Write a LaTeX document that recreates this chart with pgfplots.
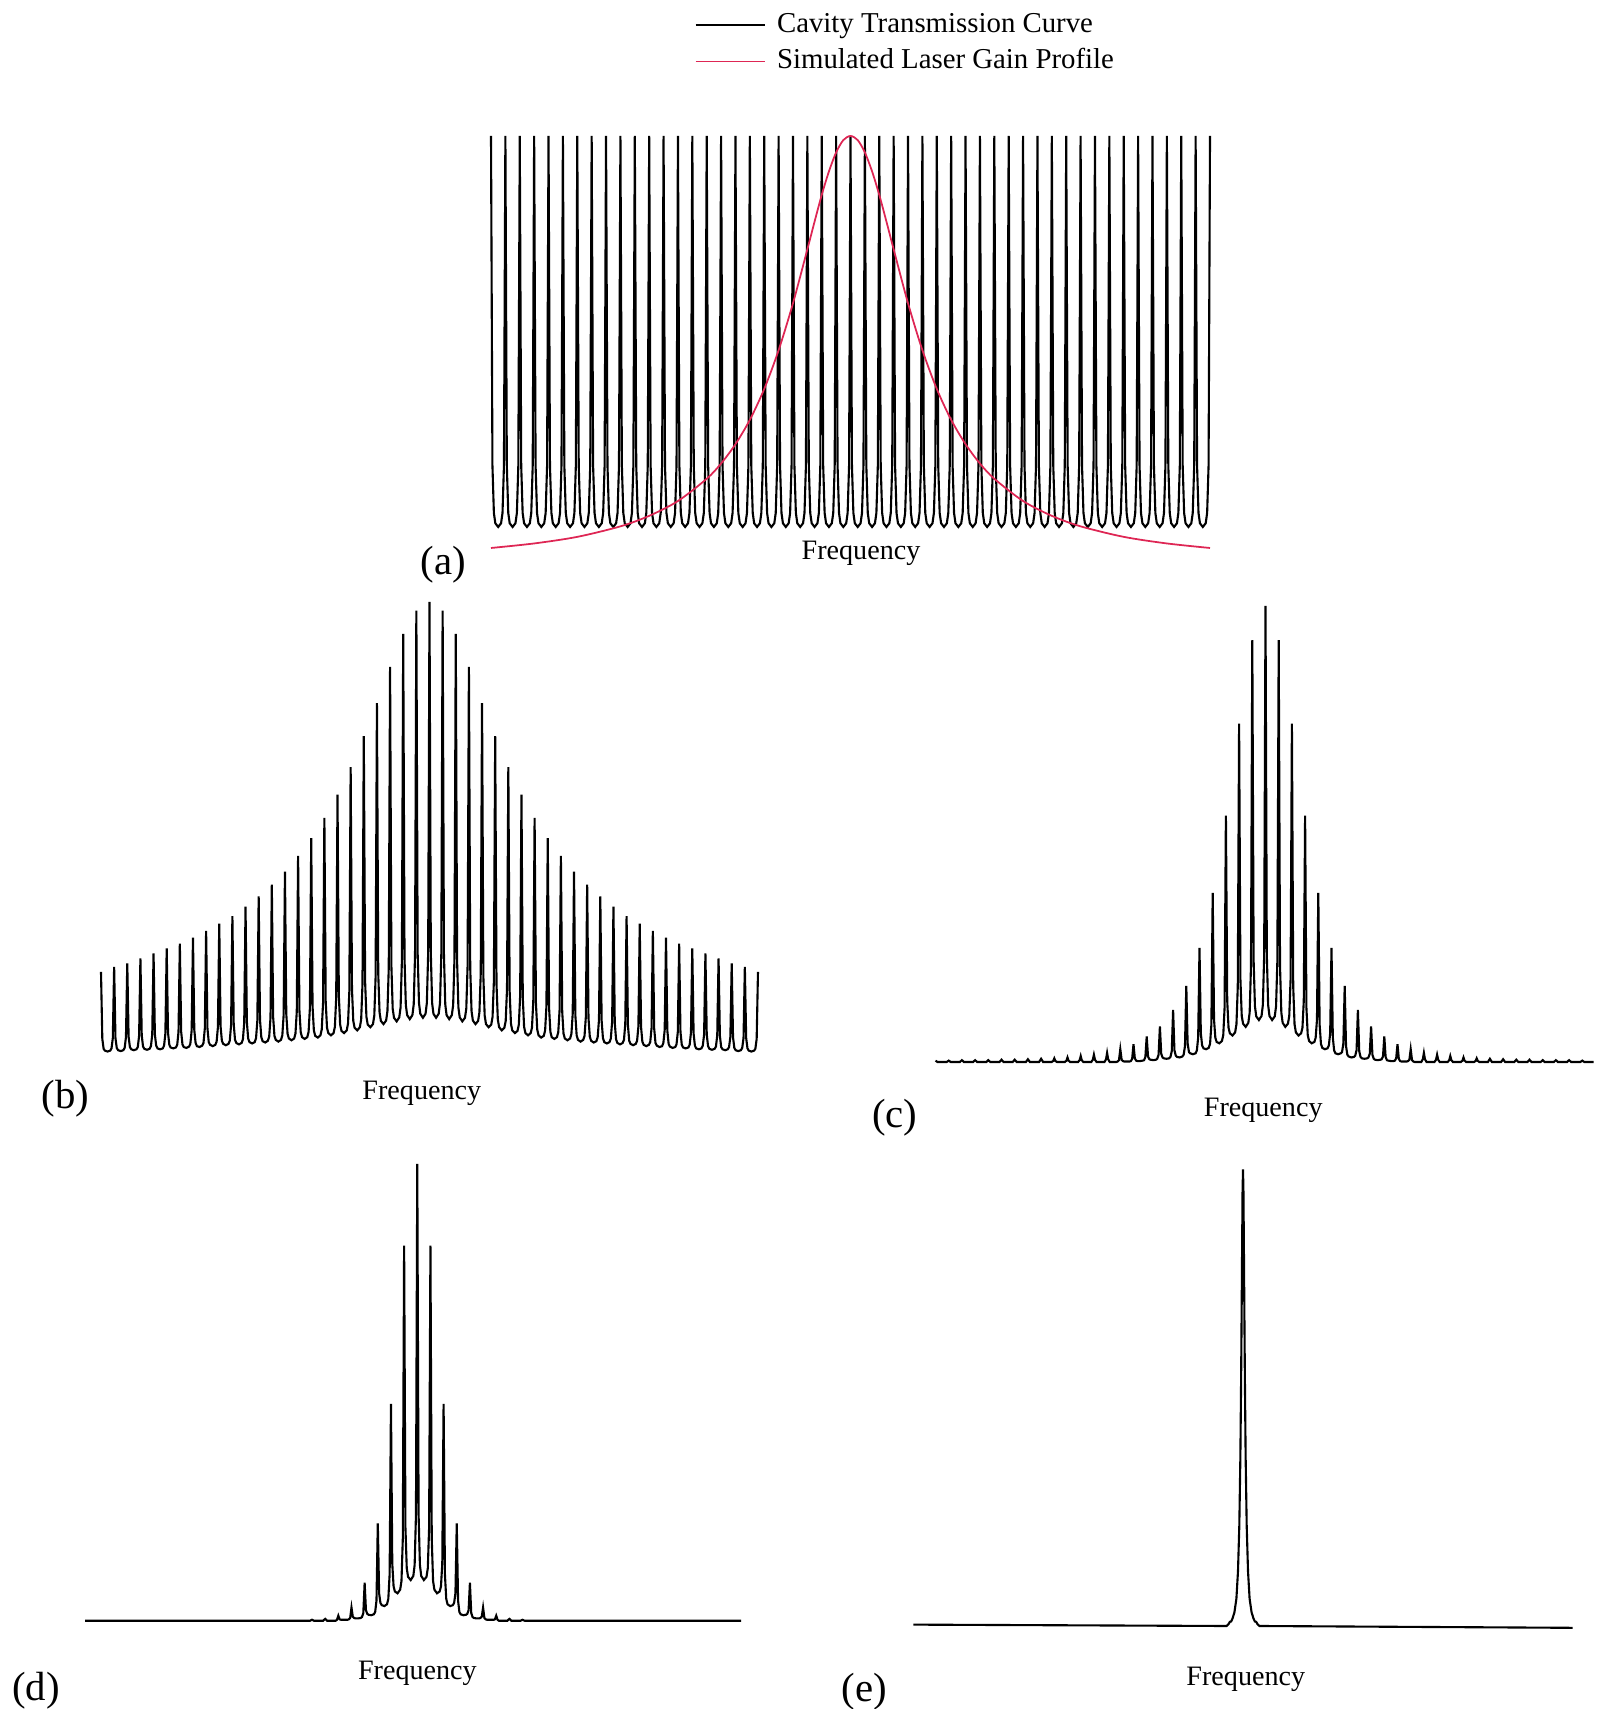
\documentclass[border=0pt]{standalone}
\usepackage{fontspec}
\setmainfont{Liberation Serif}
\usepackage{pgfplots}
\pgfplotsset{compat=1.18}
\definecolor{gainred}{RGB}{222,38,84}
\begin{document}
\begin{tikzpicture}
\path[use as bounding box] (0,0) rectangle (16.04,17.09);
\pgfplotsset{panel/.style={scale only axis, hide axis, clip=false, anchor=south west, ymin=0, ymax=1, xmin=-25, xmax=25}}
% ---------------- (a) ----------------
\begin{axis}[panel, at={(4.91cm,11.61cm)}, width=7.19cm, height=4.12cm,
  legend style={at={(0.2823,1.3136)}, anchor=north west, draw=none, fill=none, inner sep=0pt,
    font=\fontsize{8.2}{9.8}\selectfont, nodes={inner sep=1pt, text height=6.0pt, text depth=1.8pt},
    row sep=0.7pt, column sep=2.2pt, cells={anchor=west}},
  legend image code/.code={\draw[#1] (0cm,0cm) -- (0.69cm,0cm);}]
\addplot[black, line width=0.6pt] coordinates {
(-25,1)(-24.9,.2)(-24.8,.085)(-24.7,.06)(-24.5,.051)(-24.3,.06)(-24.2,.085)(-24.1,.2)
(-24,1)(-23.9,.2)(-23.8,.085)(-23.7,.06)(-23.5,.051)(-23.3,.06)(-23.2,.085)(-23.1,.2)
(-23,1)(-22.9,.2)(-22.8,.085)(-22.7,.06)(-22.5,.051)(-22.3,.06)(-22.2,.085)(-22.1,.2)
(-22,1)(-21.9,.2)(-21.8,.085)(-21.7,.06)(-21.5,.051)(-21.3,.06)(-21.2,.085)(-21.1,.2)
(-21,1)(-20.9,.2)(-20.8,.085)(-20.7,.06)(-20.5,.051)(-20.3,.06)(-20.2,.085)(-20.1,.2)
(-20,1)(-19.9,.2)(-19.8,.085)(-19.7,.06)(-19.5,.051)(-19.3,.06)(-19.2,.085)(-19.1,.2)
(-19,1)(-18.9,.2)(-18.8,.085)(-18.7,.06)(-18.5,.051)(-18.3,.06)(-18.2,.085)(-18.1,.2)
(-18,1)(-17.9,.2)(-17.8,.085)(-17.7,.06)(-17.5,.051)(-17.3,.06)(-17.2,.085)(-17.1,.2)
(-17,1)(-16.9,.2)(-16.8,.085)(-16.7,.06)(-16.5,.051)(-16.3,.06)(-16.2,.085)(-16.1,.2)
(-16,1)(-15.9,.2)(-15.8,.085)(-15.7,.06)(-15.5,.051)(-15.3,.06)(-15.2,.085)(-15.1,.2)
(-15,1)(-14.9,.2)(-14.8,.085)(-14.7,.06)(-14.5,.051)(-14.3,.06)(-14.2,.085)(-14.1,.2)
(-14,1)(-13.9,.2)(-13.8,.085)(-13.7,.06)(-13.5,.051)(-13.3,.06)(-13.2,.085)(-13.1,.2)
(-13,1)(-12.9,.2)(-12.8,.085)(-12.7,.06)(-12.5,.051)(-12.3,.06)(-12.2,.085)(-12.1,.2)
(-12,1)(-11.9,.2)(-11.8,.085)(-11.7,.06)(-11.5,.051)(-11.3,.06)(-11.2,.085)(-11.1,.2)
(-11,1)(-10.9,.2)(-10.8,.085)(-10.7,.06)(-10.5,.051)(-10.3,.06)(-10.2,.085)(-10.1,.2)
(-10,1)(-9.9,.2)(-9.8,.085)(-9.7,.06)(-9.5,.051)(-9.3,.06)(-9.2,.085)(-9.1,.2)
(-9,1)(-8.9,.2)(-8.8,.085)(-8.7,.06)(-8.5,.051)(-8.3,.06)(-8.2,.085)(-8.1,.2)
(-8,1)(-7.9,.2)(-7.8,.085)(-7.7,.06)(-7.5,.051)(-7.3,.06)(-7.2,.085)(-7.1,.2)
(-7,1)(-6.9,.2)(-6.8,.085)(-6.7,.06)(-6.5,.051)(-6.3,.06)(-6.2,.085)(-6.1,.2)
(-6,1)(-5.9,.2)(-5.8,.085)(-5.7,.06)(-5.5,.051)(-5.3,.06)(-5.2,.085)(-5.1,.2)
(-5,1)(-4.9,.2)(-4.8,.085)(-4.7,.06)(-4.5,.051)(-4.3,.06)(-4.2,.085)(-4.1,.2)
(-4,1)(-3.9,.2)(-3.8,.085)(-3.7,.06)(-3.5,.051)(-3.3,.06)(-3.2,.085)(-3.1,.2)
(-3,1)(-2.9,.2)(-2.8,.085)(-2.7,.06)(-2.5,.051)(-2.3,.06)(-2.2,.085)(-2.1,.2)
(-2,1)(-1.9,.2)(-1.8,.085)(-1.7,.06)(-1.5,.051)(-1.3,.06)(-1.2,.085)(-1.1,.2)
(-1,1)(-0.9,.2)(-0.8,.085)(-0.7,.06)(-0.5,.051)(-0.3,.06)(-0.2,.085)(-0.1,.2)
(0,1)(0.1,.2)(0.2,.085)(0.3,.06)(0.5,.051)(0.7,.06)(0.8,.085)(0.9,.2)
(1,1)(1.1,.2)(1.2,.085)(1.3,.06)(1.5,.051)(1.7,.06)(1.8,.085)(1.9,.2)
(2,1)(2.1,.2)(2.2,.085)(2.3,.06)(2.5,.051)(2.7,.06)(2.8,.085)(2.9,.2)
(3,1)(3.1,.2)(3.2,.085)(3.3,.06)(3.5,.051)(3.7,.06)(3.8,.085)(3.9,.2)
(4,1)(4.1,.2)(4.2,.085)(4.3,.06)(4.5,.051)(4.7,.06)(4.8,.085)(4.9,.2)
(5,1)(5.1,.2)(5.2,.085)(5.3,.06)(5.5,.051)(5.7,.06)(5.8,.085)(5.9,.2)
(6,1)(6.1,.2)(6.2,.085)(6.3,.06)(6.5,.051)(6.7,.06)(6.8,.085)(6.9,.2)
(7,1)(7.1,.2)(7.2,.085)(7.3,.06)(7.5,.051)(7.7,.06)(7.8,.085)(7.9,.2)
(8,1)(8.1,.2)(8.2,.085)(8.3,.06)(8.5,.051)(8.7,.06)(8.8,.085)(8.9,.2)
(9,1)(9.1,.2)(9.2,.085)(9.3,.06)(9.5,.051)(9.7,.06)(9.8,.085)(9.9,.2)
(10,1)(10.1,.2)(10.2,.085)(10.3,.06)(10.5,.051)(10.7,.06)(10.8,.085)(10.9,.2)
(11,1)(11.1,.2)(11.2,.085)(11.3,.06)(11.5,.051)(11.7,.06)(11.8,.085)(11.9,.2)
(12,1)(12.1,.2)(12.2,.085)(12.3,.06)(12.5,.051)(12.7,.06)(12.8,.085)(12.9,.2)
(13,1)(13.1,.2)(13.2,.085)(13.3,.06)(13.5,.051)(13.7,.06)(13.8,.085)(13.9,.2)
(14,1)(14.1,.2)(14.2,.085)(14.3,.06)(14.5,.051)(14.7,.06)(14.8,.085)(14.9,.2)
(15,1)(15.1,.2)(15.2,.085)(15.3,.06)(15.5,.051)(15.7,.06)(15.8,.085)(15.9,.2)
(16,1)(16.1,.2)(16.2,.085)(16.3,.06)(16.5,.051)(16.7,.06)(16.8,.085)(16.9,.2)
(17,1)(17.1,.2)(17.2,.085)(17.3,.06)(17.5,.051)(17.7,.06)(17.8,.085)(17.9,.2)
(18,1)(18.1,.2)(18.2,.085)(18.3,.06)(18.5,.051)(18.7,.06)(18.8,.085)(18.9,.2)
(19,1)(19.1,.2)(19.2,.085)(19.3,.06)(19.5,.051)(19.7,.06)(19.8,.085)(19.9,.2)
(20,1)(20.1,.2)(20.2,.085)(20.3,.06)(20.5,.051)(20.7,.06)(20.8,.085)(20.9,.2)
(21,1)(21.1,.2)(21.2,.085)(21.3,.06)(21.5,.051)(21.7,.06)(21.8,.085)(21.9,.2)
(22,1)(22.1,.2)(22.2,.085)(22.3,.06)(22.5,.051)(22.7,.06)(22.8,.085)(22.9,.2)
(23,1)(23.1,.2)(23.2,.085)(23.3,.06)(23.5,.051)(23.7,.06)(23.8,.085)(23.9,.2)
(24,1)(24.1,.2)(24.2,.085)(24.3,.06)(24.5,.051)(24.7,.06)(24.8,.085)(24.9,.2)
(25,1)};
\addlegendentry{Cavity Transmission Curve}
\addplot[gainred, line width=0.5pt, smooth] coordinates {
(-25,0)(-22,.011)(-19,.027)(-16,.0525)(-14,.078)(-12,.114)(-10,.168)(-9,.205)(-8,.252)(-7,.311)
(-6,.386)(-5,.480)(-4,.594)(-3,.725)(-2.5,.792)(-2,.857)(-1.5,.914)(-1,.960)(-0.5,.990)(0,1)
(0.5,.990)(1,.960)(1.5,.914)(2,.857)(2.5,.792)(3,.725)(4,.594)(5,.480)(6,.386)(7,.311)
(8,.252)(9,.205)(10,.168)(12,.114)(14,.078)(16,.0525)(19,.027)(22,.011)(25,0)};
\addlegendentry{Simulated Laser Gain Profile}
\end{axis}
% ---------------- (b) ----------------
\begin{axis}[panel, at={(1.01cm,6.57cm)}, width=6.57cm, height=4.50cm]
\addplot[black, line width=0.6pt] coordinates {
(-25,.178)(-24.9,.029)(-24.8,.007)(-24.7,.003)(-24.5,.001)(-24.3,.003)(-24.2,.008)(-24.1,.031)(-24,.189)
(-23.9,.031)(-23.8,.009)(-23.7,.004)(-23.5,.002)(-23.3,.004)(-23.2,.009)(-23.1,.033)(-23,.197)
(-22.9,.034)(-22.8,.011)(-22.7,.006)(-22.5,.004)(-22.3,.006)(-22.2,.011)(-22.1,.036)(-22,.208)
(-21.9,.037)(-21.8,.012)(-21.7,.007)(-21.5,.005)(-21.3,.007)(-21.2,.013)(-21.1,.039)(-21,.219)
(-20.9,.039)(-20.8,.014)(-20.7,.008)(-20.5,.006)(-20.3,.008)(-20.2,.014)(-20.1,.041)(-20,.230)
(-19.9,.043)(-19.8,.016)(-19.7,.010)(-19.5,.008)(-19.3,.010)(-19.2,.016)(-19.1,.045)(-19,.241)
(-18.9,.045)(-18.8,.017)(-18.7,.011)(-18.5,.009)(-18.3,.012)(-18.2,.018)(-18.1,.048)(-18,.254)
(-17.9,.049)(-17.8,.020)(-17.7,.013)(-17.5,.011)(-17.3,.014)(-17.2,.020)(-17.1,.052)(-17,.269)
(-16.9,.053)(-16.8,.022)(-16.7,.016)(-16.5,.013)(-16.3,.016)(-16.2,.023)(-16.1,.056)(-16,.285)
(-15.9,.057)(-15.8,.025)(-15.7,.018)(-15.5,.015)(-15.3,.018)(-15.2,.025)(-15.1,.060)(-15,.302)
(-14.9,.062)(-14.8,.027)(-14.7,.020)(-14.5,.017)(-14.3,.020)(-14.2,.028)(-14.1,.065)(-14,.323)
(-13.9,.067)(-13.8,.030)(-13.7,.022)(-13.5,.019)(-13.3,.022)(-13.2,.031)(-13.1,.070)(-13,.346)
(-12.9,.072)(-12.8,.033)(-12.7,.024)(-12.5,.021)(-12.3,.025)(-12.2,.034)(-12.1,.076)(-12,.372)
(-11.9,.078)(-11.8,.036)(-11.7,.027)(-11.5,.023)(-11.3,.027)(-11.2,.037)(-11.1,.082)(-11,.401)
(-10.9,.085)(-10.8,.040)(-10.7,.030)(-10.5,.026)(-10.3,.030)(-10.2,.041)(-10.1,.090)(-10,.436)
(-9.9,.093)(-9.8,.044)(-9.7,.033)(-9.5,.029)(-9.3,.033)(-9.2,.045)(-9.1,.099)(-9,.475)
(-8.9,.102)(-8.8,.048)(-8.7,.036)(-8.5,.032)(-8.3,.037)(-8.2,.050)(-8.1,.109)(-8,.520)
(-7.9,.113)(-7.8,.054)(-7.7,.042)(-7.5,.037)(-7.3,.042)(-7.2,.056)(-7.1,.121)(-7,.572)
(-6.9,.125)(-6.8,.061)(-6.7,.047)(-6.5,.042)(-6.3,.048)(-6.2,.063)(-6.1,.135)(-6,.633)
(-5.9,.140)(-5.8,.069)(-5.7,.054)(-5.5,.048)(-5.3,.055)(-5.2,.072)(-5.1,.151)(-5,.702)
(-4.9,.157)(-4.8,.078)(-4.7,.061)(-4.5,.055)(-4.3,.062)(-4.2,.081)(-4.1,.168)(-4,.775)
(-3.9,.174)(-3.8,.088)(-3.7,.069)(-3.5,.062)(-3.3,.070)(-3.2,.091)(-3.1,.187)(-3,.856)
(-2.9,.192)(-2.8,.096)(-2.7,.076)(-2.5,.068)(-2.3,.077)(-2.2,.099)(-2.1,.203)(-2,.929)
(-1.9,.207)(-1.8,.104)(-1.7,.082)(-1.5,.073)(-1.3,.082)(-1.2,.106)(-1.1,.216)(-1,.981)
(-0.9,.218)(-0.8,.109)(-0.7,.085)(-0.5,.076)(-0.3,.085)(-0.2,.109)(-0.1,.221)(0,1)
(0.1,.221)(0.2,.109)(0.3,.085)(0.5,.076)(0.7,.085)(0.8,.109)(0.9,.218)(1,.981)
(1.1,.216)(1.2,.106)(1.3,.082)(1.5,.073)(1.7,.082)(1.8,.104)(1.9,.207)(2,.929)
(2.1,.203)(2.2,.099)(2.3,.077)(2.5,.068)(2.7,.076)(2.8,.096)(2.9,.192)(3,.856)
(3.1,.187)(3.2,.091)(3.3,.070)(3.5,.062)(3.7,.069)(3.8,.088)(3.9,.174)(4,.775)
(4.1,.168)(4.2,.081)(4.3,.062)(4.5,.055)(4.7,.061)(4.8,.078)(4.9,.157)(5,.702)
(5.1,.151)(5.2,.072)(5.3,.055)(5.5,.048)(5.7,.054)(5.8,.069)(5.9,.140)(6,.633)
(6.1,.135)(6.2,.063)(6.3,.048)(6.5,.042)(6.7,.047)(6.8,.061)(6.9,.125)(7,.572)
(7.1,.121)(7.2,.056)(7.3,.042)(7.5,.037)(7.7,.042)(7.8,.054)(7.9,.113)(8,.520)
(8.1,.109)(8.2,.050)(8.3,.037)(8.5,.032)(8.7,.036)(8.8,.048)(8.9,.102)(9,.475)
(9.1,.099)(9.2,.045)(9.3,.033)(9.5,.029)(9.7,.033)(9.8,.044)(9.9,.093)(10,.436)
(10.1,.090)(10.2,.041)(10.3,.030)(10.5,.026)(10.7,.030)(10.8,.040)(10.9,.085)(11,.401)
(11.1,.082)(11.2,.037)(11.3,.027)(11.5,.023)(11.7,.027)(11.8,.036)(11.9,.078)(12,.372)
(12.1,.076)(12.2,.034)(12.3,.025)(12.5,.021)(12.7,.024)(12.8,.033)(12.9,.072)(13,.346)
(13.1,.070)(13.2,.031)(13.3,.022)(13.5,.019)(13.7,.022)(13.8,.030)(13.9,.067)(14,.323)
(14.1,.065)(14.2,.028)(14.3,.020)(14.5,.017)(14.7,.020)(14.8,.027)(14.9,.062)(15,.302)
(15.1,.060)(15.2,.025)(15.3,.018)(15.5,.015)(15.7,.018)(15.8,.025)(15.9,.057)(16,.285)
(16.1,.056)(16.2,.023)(16.3,.016)(16.5,.013)(16.7,.016)(16.8,.022)(16.9,.053)(17,.269)
(17.1,.052)(17.2,.020)(17.3,.014)(17.5,.011)(17.7,.013)(17.8,.020)(17.9,.049)(18,.254)
(18.1,.048)(18.2,.018)(18.3,.012)(18.5,.009)(18.7,.011)(18.8,.017)(18.9,.045)(19,.241)
(19.1,.045)(19.2,.016)(19.3,.010)(19.5,.008)(19.7,.010)(19.8,.016)(19.9,.043)(20,.230)
(20.1,.041)(20.2,.014)(20.3,.008)(20.5,.006)(20.7,.008)(20.8,.014)(20.9,.039)(21,.219)
(21.1,.039)(21.2,.013)(21.3,.007)(21.5,.005)(21.7,.007)(21.8,.012)(21.9,.037)(22,.208)
(22.1,.036)(22.2,.011)(22.3,.006)(22.5,.004)(22.7,.006)(22.8,.011)(22.9,.034)(23,.197)
(23.1,.033)(23.2,.009)(23.3,.004)(23.5,.002)(23.7,.004)(23.8,.009)(23.9,.031)(24,.189)
(24.1,.031)(24.2,.008)(24.3,.003)(24.5,.001)(24.7,.003)(24.8,.007)(24.9,.029)(25,.178)};
\end{axis}
% ---------------- (c) ----------------
\begin{axis}[panel, at={(9.355cm,6.47cm)}, width=6.60cm, height=4.56cm]
\addplot[black, line width=0.6pt] coordinates {
(-25,.003)(-24.85,0)(-24.15,0)(-24,.003)(-23.85,0)(-23.15,0)(-23,.004)(-22.85,0)(-22.15,0)(-22,.004)
(-21.85,0)(-21.15,0)(-21,.004)(-20.85,0)(-20.15,0)(-20,.005)(-19.85,0)(-19.15,0)(-19,.005)(-18.85,0)
(-18.15,0)(-18,.006)(-17.85,0)(-17.15,0)(-17,.007)(-16.85,0)(-16.2,0)(-16.08,.0024)(-16,.008)(-15.92,.0024)
(-15.8,0)(-15.2,0)(-15.08,.003)(-15,.010)(-14.92,.003)(-14.8,0)(-14.2,0)(-14.08,.004)(-14,.013)(-13.92,.004)
(-13.8,0)(-13.2,0)(-13.08,.005)(-13,.016)(-12.92,.005)(-12.8,0)(-12.2,0)(-12.08,.006)(-12,.020)(-11.92,.006)
(-11.8,0)(-11.3,0)(-11.2,.001)(-11.1,.004)(-11,.028)
(-10.9,.005)(-10.8,.002)(-10.7,.001)(-10.5,.001)(-10.3,.001)(-10.2,.002)(-10.1,.007)(-10,.039)
(-9.9,.008)(-9.8,.003)(-9.7,.002)(-9.5,.002)(-9.3,.003)(-9.2,.004)(-9.1,.011)(-9,.056)
(-8.9,.012)(-8.8,.006)(-8.7,.005)(-8.5,.004)(-8.3,.005)(-8.2,.007)(-8.1,.016)(-8,.078)
(-7.9,.018)(-7.8,.010)(-7.7,.008)(-7.5,.007)(-7.3,.008)(-7.2,.011)(-7.1,.024)(-7,.114)
(-6.9,.026)(-6.8,.014)(-6.7,.011)(-6.5,.010)(-6.3,.012)(-6.2,.016)(-6.1,.035)(-6,.167)
(-5.9,.041)(-5.8,.022)(-5.7,.019)(-5.5,.017)(-5.3,.019)(-5.2,.025)(-5.1,.054)(-5,.250)
(-4.9,.063)(-4.8,.036)(-4.7,.030)(-4.5,.028)(-4.3,.031)(-4.2,.040)(-4.1,.082)(-4,.371)
(-3.9,.093)(-3.8,.053)(-3.7,.044)(-3.5,.041)(-3.3,.046)(-3.2,.059)(-3.1,.119)(-3,.540)
(-2.9,.134)(-2.8,.075)(-2.7,.063)(-2.5,.058)(-2.3,.065)(-2.2,.083)(-2.1,.165)(-2,.742)
(-1.9,.181)(-1.8,.101)(-1.7,.084)(-1.5,.077)(-1.3,.086)(-1.2,.108)(-1.1,.210)(-1,.925)
(-0.9,.223)(-0.8,.122)(-0.7,.100)(-0.5,.092)(-0.3,.101)(-0.2,.125)(-0.1,.235)(0,1)
(0.1,.235)(0.2,.125)(0.3,.101)(0.5,.092)(0.7,.100)(0.8,.122)(0.9,.223)(1,.925)
(1.1,.210)(1.2,.108)(1.3,.086)(1.5,.077)(1.7,.084)(1.8,.101)(1.9,.181)(2,.742)
(2.1,.165)(2.2,.083)(2.3,.065)(2.5,.058)(2.7,.063)(2.8,.075)(2.9,.134)(3,.540)
(3.1,.119)(3.2,.059)(3.3,.046)(3.5,.041)(3.7,.044)(3.8,.053)(3.9,.093)(4,.371)
(4.1,.082)(4.2,.040)(4.3,.031)(4.5,.028)(4.7,.030)(4.8,.036)(4.9,.063)(5,.250)
(5.1,.054)(5.2,.025)(5.3,.019)(5.5,.017)(5.7,.019)(5.8,.022)(5.9,.041)(6,.167)
(6.1,.035)(6.2,.016)(6.3,.012)(6.5,.010)(6.7,.011)(6.8,.014)(6.9,.026)(7,.114)
(7.1,.024)(7.2,.011)(7.3,.008)(7.5,.007)(7.7,.008)(7.8,.010)(7.9,.018)(8,.078)
(8.1,.016)(8.2,.007)(8.3,.005)(8.5,.004)(8.7,.005)(8.8,.006)(8.9,.012)(9,.056)
(9.1,.011)(9.2,.004)(9.3,.003)(9.5,.002)(9.7,.002)(9.8,.003)(9.9,.008)(10,.039)
(10.1,.007)(10.2,.002)(10.3,.001)(10.5,.001)(10.7,.001)(10.8,.002)(10.9,.005)(11,.028)
(11.1,.004)(11.2,.001)(11.3,0)(11.8,0)(11.92,.006)(12,.020)(12.08,.006)(12.2,0)(12.8,0)(12.92,.005)
(13,.016)(13.08,.005)(13.2,0)(13.8,0)(13.92,.004)(14,.013)(14.08,.004)(14.2,0)(14.8,0)(14.92,.003)
(15,.010)(15.08,.003)(15.2,0)(15.8,0)(15.92,.0024)(16,.008)(16.08,.0024)(16.2,0)(16.85,0)(17,.007)
(17.15,0)(17.85,0)(18,.006)(18.15,0)(18.85,0)(19,.005)(19.15,0)(19.85,0)(20,.005)(20.15,0)
(20.85,0)(21,.004)(21.15,0)(21.85,0)(22,.004)(22.15,0)(22.85,0)(23,.004)(23.15,0)(23.85,0)
(24,.003)(24.15,0)(24.85,0)};
\end{axis}
% ---------------- (d) ----------------
\begin{axis}[panel, at={(0.85cm,0.883cm)}, width=6.56cm, height=4.567cm, xmin=-25.25, xmax=24.6]
\addplot[black, line width=0.6pt] coordinates {
(-25.25,0)(-8.15,0)(-8,.002)(-7.85,0)(-7.15,0)(-7,.004)(-6.85,0)(-6.2,0)(-6.1,.002)(-6,.011)
(-5.9,.003)(-5.8,.002)(-5.7,.002)(-5.5,.002)(-5.3,.002)(-5.2,.003)(-5.1,.006)(-5,.029)
(-4.9,.009)(-4.8,.006)(-4.7,.005)(-4.5,.005)(-4.3,.006)(-4.2,.008)(-4.1,.017)(-4,.083)
(-3.9,.023)(-3.8,.015)(-3.7,.013)(-3.5,.012)(-3.3,.014)(-3.2,.019)(-3.1,.044)(-3,.213)
(-2.9,.060)(-2.8,.039)(-2.7,.034)(-2.5,.032)(-2.3,.036)(-2.2,.048)(-2.1,.102)(-2,.475)
(-1.9,.125)(-1.8,.075)(-1.7,.064)(-1.5,.060)(-1.3,.068)(-1.2,.087)(-1.1,.179)(-1,.821)
(-0.9,.204)(-0.8,.115)(-0.7,.096)(-0.5,.089)(-0.3,.098)(-0.2,.122)(-0.1,.232)(0,1)
(0.1,.232)(0.2,.122)(0.3,.098)(0.5,.089)(0.7,.096)(0.8,.115)(0.9,.204)(1,.821)
(1.1,.179)(1.2,.087)(1.3,.068)(1.5,.060)(1.7,.064)(1.8,.075)(1.9,.125)(2,.475)
(2.1,.102)(2.2,.048)(2.3,.036)(2.5,.032)(2.7,.034)(2.8,.039)(2.9,.060)(3,.213)
(3.1,.044)(3.2,.019)(3.3,.014)(3.5,.012)(3.7,.013)(3.8,.015)(3.9,.023)(4,.083)
(4.1,.017)(4.2,.008)(4.3,.006)(4.5,.005)(4.7,.005)(4.8,.006)(4.9,.009)(5,.029)
(5.1,.006)(5.2,.003)(5.3,.002)(5.5,.002)(5.7,.002)(5.8,.002)(5.9,.003)(6,.011)
(6.1,.002)(6.2,0)(6.85,0)(7,.004)(7.15,0)(7.85,0)(8,.002)(8.15,0)(24.6,0)};
\end{axis}
% ---------------- (e) ----------------
\begin{axis}[panel, at={(9.133cm,0.83cm)}, width=6.594cm, height=4.565cm]
\addplot[black, line width=0.6pt] coordinates {
(-25,.003)(-1.25,0)(-1.1,.004)(-1,.009)(-0.9,.010)(-0.8,.016)(-0.65,.03)(-0.5,.06)(-0.38,.12)
(-0.28,.22)(-0.2,.37)(-0.14,.55)(-0.08,.78)(-0.035,.95)(0,1)(0.035,.95)(0.08,.78)(0.14,.55)
(0.2,.37)(0.28,.22)(0.38,.12)(0.5,.06)(0.65,.03)(0.8,.016)(0.9,.010)(1,.009)(1.1,.004)
(1.25,0)(25,-.004)};
\end{axis}
% ---------------- labels ----------------
\begin{scope}[every node/.style={inner sep=0pt}]
\node[font=\fontsize{11.6}{13}\selectfont] at (4.436,11.444) {(a)};
\node[font=\fontsize{8}{9.6}\selectfont] at (8.61,11.553) {Frequency};
\node[font=\fontsize{11.6}{13}\selectfont] at (0.654,6.104) {(b)};
\node[font=\fontsize{8}{9.6}\selectfont] at (4.218,6.158) {Frequency};
\node[font=\fontsize{11.6}{13}\selectfont] at (8.948,5.908) {(c)};
\node[font=\fontsize{8}{9.6}\selectfont] at (12.632,5.984) {Frequency};
\node[font=\fontsize{11.6}{13}\selectfont] at (0.36,0.186) {(d)};
\node[font=\fontsize{8}{9.6}\selectfont] at (4.174,0.36) {Frequency};
\node[font=\fontsize{11.6}{13}\selectfont] at (8.643,0.175) {(e)};
\node[font=\fontsize{8}{9.6}\selectfont] at (12.458,0.295) {Frequency};
\end{scope}
\end{tikzpicture}
\end{document}
